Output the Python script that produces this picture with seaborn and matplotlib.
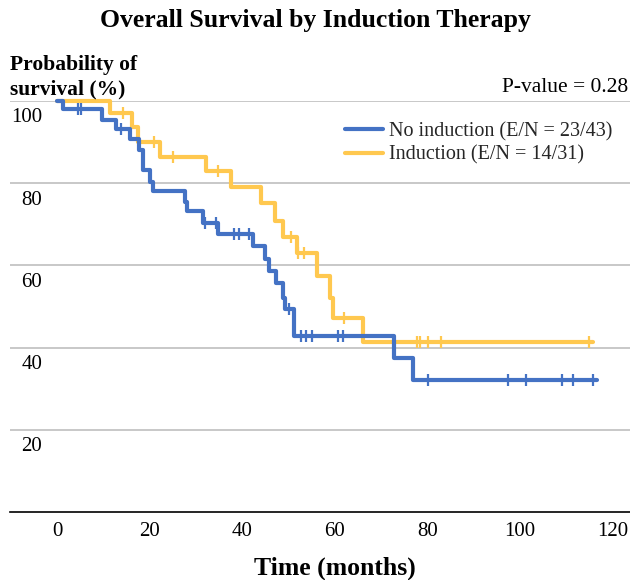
import numpy as np
import pandas as pd
import matplotlib
matplotlib.use("Agg")
import matplotlib.pyplot as plt
from matplotlib.lines import Line2D
from matplotlib.transforms import ScaledTranslation
import seaborn as sns

# ---------------- data ----------------
groups = ["No induction (E/N = 23/43)", "Induction (E/N = 14/31)"]

# step (Kaplan-Meier) curve: event times (months) and survival (%) after each step
no_ind_time = [0, 1.3, 9.8, 12.7, 15.8, 17.8, 18.6, 20.2, 20.7, 27.6, 28.0, 31.6, 34.7,
               42.4, 44.9, 45.9, 47.4, 48.9, 49.3, 51.3, 72.9, 77.0, 116.6]
no_ind_surv = [100, 98.0, 95.4, 93.2, 90.7, 88.0, 83.2, 80.4, 78.0, 75.5, 73.2, 70.4, 67.7,
               64.7, 61.6, 58.6, 55.8, 52.1, 49.3, 42.9, 37.5, 32.0, 32.0]
no_ind_cens = [4.6, 5.1, 13.8, 32.0, 34.4, 38.3, 39.4, 41.5, 50.2, 52.7, 53.8, 55.0,
               60.8, 61.8, 80.2, 97.5, 101.3, 109.1, 111.4, 115.7]

ind_time = [0, 11.4, 16.3, 17.6, 22.2, 32.1, 37.5, 44.0, 47.2, 48.9, 51.8, 56.2, 59.0,
            59.7, 66.2, 115.8]
ind_surv = [100, 97.0, 93.6, 90.1, 86.4, 82.9, 79.0, 75.1, 70.8, 67.0, 62.9, 57.4, 52.1,
            47.2, 41.3, 41.3]
ind_cens = [14.2, 21.0, 25.1, 34.8, 50.5, 52.0, 53.3, 62.1, 77.7, 78.5, 80.1, 82.9, 114.9]

x_ticks = [0, 20, 40, 60, 80, 100, 120]
y_ticks = [20, 40, 60, 80, 100]

title = "Overall Survival by Induction Therapy"
x_label = "Time (months)"
y_label_lines = ["Probability of", "survival (%)"]
p_text = "P-value = 0.28"

colors = {groups[0]: "#4472C4", groups[1]: "#FFC84F"}

# ---------------- build tables ----------------
curves = pd.concat([
    pd.DataFrame({"time": ind_time, "surv": ind_surv, "group": groups[1]}),
    pd.DataFrame({"time": no_ind_time, "surv": no_ind_surv, "group": groups[0]}),
], ignore_index=True)


def surv_at(times, survs, t):
    idx = np.searchsorted(np.asarray(times), t, side="right") - 1
    return np.asarray(survs)[idx]


cens = pd.concat([
    pd.DataFrame({"time": ind_cens, "surv": surv_at(ind_time, ind_surv, ind_cens),
                  "group": groups[1]}),
    pd.DataFrame({"time": no_ind_cens, "surv": surv_at(no_ind_time, no_ind_surv, no_ind_cens),
                  "group": groups[0]}),
], ignore_index=True)

# ---------------- figure ----------------
sns.set_theme(style="white")
plt.rcParams["font.family"] = ["Liberation Serif", "DejaVu Serif"]

W, H = 630, 580
fig = plt.figure(figsize=(W / 100, H / 100), dpi=100)
ax_left, ax_right, ax_top, ax_bottom = 10, 630, 101, 512
ax = fig.add_axes([ax_left / W, 1 - ax_bottom / H, (ax_right - ax_left) / W,
                   (ax_bottom - ax_top) / H])

for g in [groups[1], groups[0]]:
    sub = curves[curves["group"] == g]
    sns.lineplot(data=sub, x="time", y="surv", color=colors[g], drawstyle="steps-post",
                 estimator=None, sort=False, linewidth=3.0, ax=ax, legend=False,
                 clip_on=False, zorder=3 if g == groups[0] else 2)
    csub = cens[cens["group"] == g]
    sns.scatterplot(data=csub, x="time", y="surv", color=colors[g], marker="|", s=70,
                    linewidth=1.6, ax=ax, legend=False, clip_on=False,
                    zorder=3 if g == groups[0] else 2)

ax.set_xlim(-10.15, 123.8)
ax.set_ylim(0, 100)
ax.set_xticks(x_ticks)
ax.set_xticklabels([str(v) for v in x_ticks])
ax.set_yticks(y_ticks)
ax.set_yticklabels([str(v) for v in y_ticks])
ax.set_xlabel("")
ax.set_ylabel("")

for s in ["top", "right", "left"]:
    ax.spines[s].set_visible(False)
ax.spines["bottom"].set_color("black")
ax.spines["bottom"].set_linewidth(1.2)

ax.grid(axis="y", color="#BFBFBF", linewidth=1.2)
ax.grid(axis="x", visible=False)
ax.set_axisbelow(True)

ax.tick_params(axis="x", direction="in", length=10, width=1.0, color="black",
               pad=7, labelsize=15, labelcolor="black")
ax.tick_params(axis="y", length=0, pad=0, labelsize=15, labelcolor="black")
# y tick labels sit just below each gridline, right-aligned near the left edge
offset = ScaledTranslation(32 / 100, -14.5 / 100, fig.dpi_scale_trans)
for lab in ax.get_yticklabels():
    lab.set_horizontalalignment("right")
    lab.set_transform(lab.get_transform() + offset)

# legend
handles = [Line2D([], [], color=colors[g], linewidth=3.0) for g in groups]
ax.legend(handles, groups, loc="upper left", bbox_to_anchor=(345 / W, 1 - 122 / H),
          bbox_transform=fig.transFigure, frameon=False, fontsize=14.5,
          handlelength=1.9, handletextpad=0.3, labelspacing=0.22, borderpad=0,
          borderaxespad=0)

# texts
fig.text(0.5, 1 - 20 / H, title, ha="center", va="center", fontsize=18.5,
         fontweight="bold", color="black")
fig.text(335 / W, 1 - 568 / H, x_label, ha="center", va="center", fontsize=18.5,
         fontweight="bold", color="black")
fig.text(10 / W, 1 - 70 / H, y_label_lines[0], ha="left", va="baseline", fontsize=15.5,
         fontweight="bold", color="black")
fig.text(10 / W, 1 - 94 / H, y_label_lines[1], ha="left", va="baseline", fontsize=15.5,
         fontweight="bold", color="black")
fig.text(628 / W, 1 - 87 / H, p_text, ha="right", va="center", fontsize=15.5,
         color="black")

fig.savefig("out.png", dpi=100)
